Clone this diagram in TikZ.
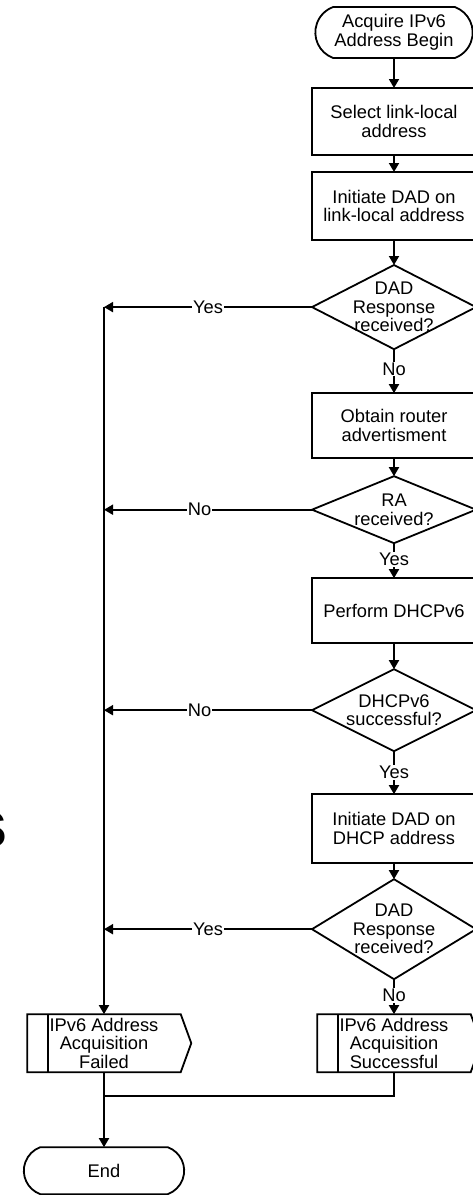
\documentclass[tikz,border=0pt]{standalone}
\usepackage{fontspec}
\setmainfont{Liberation Sans}
\usepackage{tikz}
\usetikzlibrary{arrows.meta, positioning, shapes.geometric, shapes.misc, shapes.symbols}

\begin{document}
\begin{tikzpicture}[x=1pt, y=1pt,
			every node/.style={font=\fontsize{18.3}{18.5}\selectfont, outer sep=0pt},
			terminal/.style={draw, line width=1.8pt, rounded rectangle, rounded rectangle arc length=140, minimum width=164pt, minimum height=51pt, align=center},
			procbox/.style={draw, line width=1.8pt, rectangle, minimum width=164pt, minimum height=66pt, align=center},
			decision/.style={draw, line width=1.8pt, diamond, minimum width=164pt, minimum height=83pt, inner sep=-12pt, align=center},
			subproc/.style={draw, line width=1.8pt, signal, signal to=east, signal pointer angle=140, minimum width=164pt, minimum height=58pt, inner ysep=0pt, align=center,
				path picture={\draw[line width=1.8pt] ([xshift=21pt]path picture bounding box.north west) -- ([xshift=21pt]path picture bounding box.south west);}},
			arrow/.style={-{Triangle[length=9pt, width=10pt]}, line width=1.8pt},
			lbl/.style={fill=white, inner sep=1pt}
			]
			\useasboundingbox (0,0) rectangle (473,-1195);
			\node[font=\fontsize{67}{67}\selectfont\bfseries, anchor=base east, inner sep=0pt] (sfrag) at (8,-847) {s};
			
			\node[terminal] (begin) at (394,-32.5) {Acquire IPv6\\Address Begin};
			\node[procbox, below=30pt of begin, minimum height=67pt] (sel) {Select link-local\\address};
			\node[procbox, below=17pt of sel, minimum height=68pt] (dadll) {Initiate DAD on\\link-local address};
			\node[decision, below=25pt of dadll] (dadrx) {DAD\\Response\\received?};
			\node[procbox, below=44pt of dadrx, minimum height=65pt] (router) {Obtain router\\advertisment};
			\node[decision, below=18pt of router, minimum height=67pt] (rarx) {RA\\received?};
			\node[procbox, below=35pt of rarx, minimum height=65pt] (dhcp) {Perform DHCPv6};
			\node[decision, below=26pt of dhcp, minimum height=82pt] (dhcpok) {DHCPv6\\successful?};
			\node[procbox, below=43pt of dhcpok, minimum height=69pt] (daddhcp) {Initiate DAD on\\DHCP address};
			\node[decision, below=16pt of daddhcp, minimum height=100pt] (dadrx2) {DAD\\Response\\received?};
			\node[subproc, below=35pt of dadrx2] (success) {IPv6 Address\\Acquisition\\Successful};
			\node[subproc, left=126pt of success] (failed) {IPv6 Address\\Acquisition\\Failed};
			\node[terminal, below=75pt of failed, minimum width=167pt, minimum height=47pt] (finish) {End};
			
			\draw[arrow] (begin) -- (sel);
			\draw[arrow] (sel) -- (dadll);
			\draw[arrow] (dadll) -- (dadrx);
			\draw[arrow] (dadrx) -- node[lbl, pos=0.45] {No} (router);
			\draw[arrow] (router) -- (rarx);
			\draw[arrow] (rarx) -- node[lbl, pos=0.46] {Yes} (dhcp);
			\draw[arrow] (dhcp) -- (dhcpok);
			\draw[arrow] (dhcpok) -- node[lbl, pos=0.5] {Yes} (daddhcp);
			\draw[arrow] (daddhcp) -- (dadrx2);
			\draw[arrow] (dadrx2) -- node[lbl, pos=0.46] {No} (success);
			
			\draw[arrow] (dadrx.west) -- node[lbl] {Yes} (dadrx.west -| failed.north);
			\draw[arrow] (rarx.west) -- node[lbl, pos=0.54] {No} (rarx.west -| failed.north);
			\draw[arrow] (dhcpok.west) -- node[lbl, pos=0.54] {No} (dhcpok.west -| failed.north);
			\draw[arrow] (dadrx2.west) -- node[lbl] {Yes} (dadrx2.west -| failed.north);
			\draw[arrow] (dadrx.west -| failed.north) -- (failed.north);
			
			\draw[line width=1.8pt] (success.south) -- ++(0,-24) -| (failed.south);
			\draw[arrow] (failed.south) -- (finish.north);
	\end{tikzpicture}
\end{document}
